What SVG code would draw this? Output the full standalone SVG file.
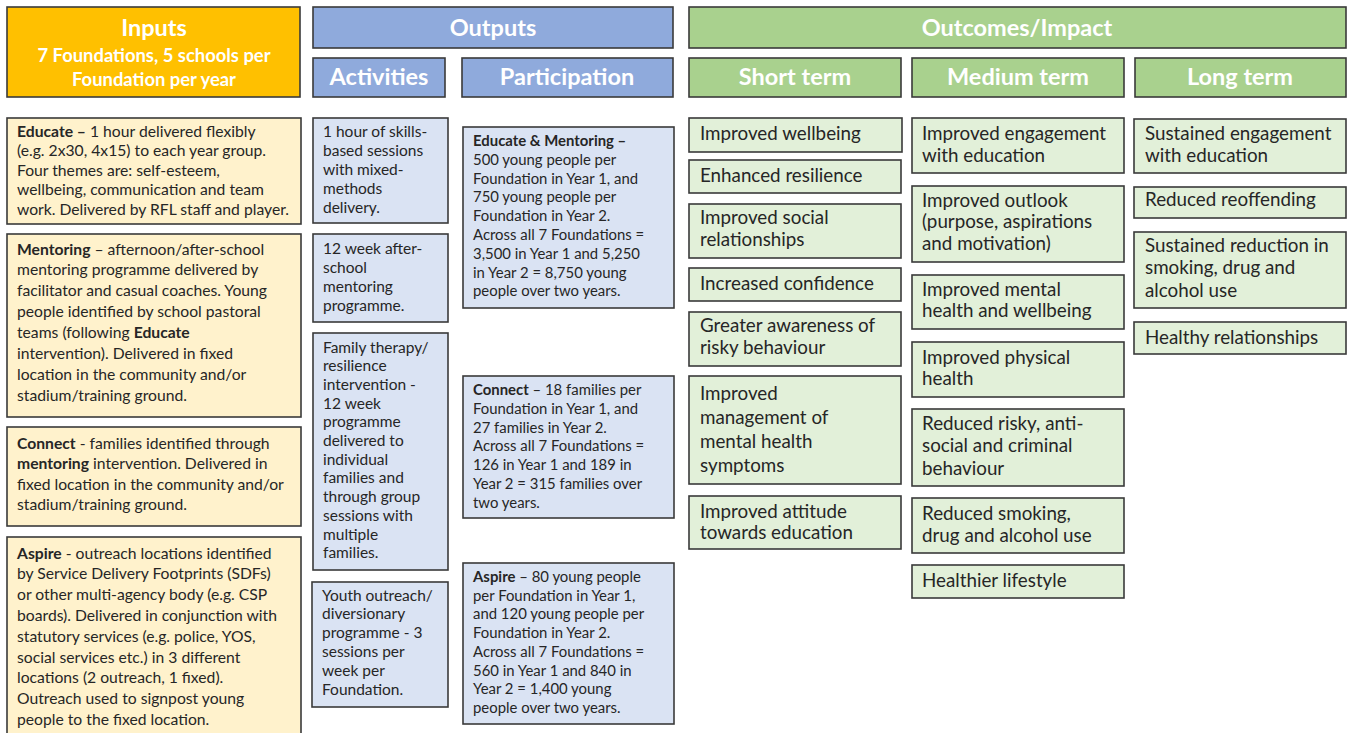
<svg xmlns="http://www.w3.org/2000/svg" width="1348" height="733" viewBox="0 0 1348 733">
  <style>
    text { font-family: Lato, "Open Sans", "Liberation Sans", sans-serif; fill: #262626; }
    .box { stroke: #3a3a3a; stroke-width: 1.6; }
    .hdr-in { fill: #FFC000; }
    .hdr-out { fill: #8FAADC; }
    .hdr-oc { fill: #A9D18E; }
    .in { fill: #FFF2CC; }
    .out { fill: #DAE3F3; }
    .oc { fill: #E2F0D9; }
    .h { fill: #ffffff; font-weight: bold; font-size: 23.5px; text-anchor: middle; }
    .hs { fill: #ffffff; font-weight: bold; font-size: 18.4px; text-anchor: middle; }
    .ti { font-size: 15.7px; }
    .ta { font-size: 15.5px; }
    .tp { font-size: 14.9px; }
    .t18 { font-size: 18.8px; }
    .b { font-weight: bold; }
  </style>

  <!-- column headers -->
  <g id="hdr-inputs">
    <rect class="box hdr-in" x="7" y="7" width="293" height="90"/>
    <text class="h" x="154" y="36">Inputs</text>
    <text class="hs" x="154" y="61.5">7 Foundations, 5 schools per</text>
    <text class="hs" x="154" y="85.5">Foundation per year</text>
  </g>
  <g id="hdr-outputs">
    <rect class="box hdr-out" x="313" y="7" width="360" height="41"/>
    <text class="h" x="493" y="36">Outputs</text>
  </g>
  <g id="hdr-activities">
    <rect class="box hdr-out" x="313" y="58" width="132" height="39"/>
    <text class="h" x="379" y="85">Activities</text>
  </g>
  <g id="hdr-participation">
    <rect class="box hdr-out" x="462" y="58" width="211" height="39"/>
    <text class="h" x="567" y="85">Participation</text>
  </g>
  <g id="hdr-outcomes">
    <rect class="box hdr-oc" x="689" y="7" width="657" height="41"/>
    <text class="h" x="1017" y="36">Outcomes/Impact</text>
  </g>
  <g id="hdr-short">
    <rect class="box hdr-oc" x="689" y="58" width="212" height="39"/>
    <text class="h" x="795" y="85">Short term</text>
  </g>
  <g id="hdr-medium">
    <rect class="box hdr-oc" x="912" y="58" width="212" height="39"/>
    <text class="h" x="1018" y="85">Medium term</text>
  </g>
  <g id="hdr-long">
    <rect class="box hdr-oc" x="1135" y="58" width="211" height="39"/>
    <text class="h" x="1240" y="85">Long term</text>
  </g>

  <!-- inputs -->
  <g id="in-educate">
    <rect class="box in" x="7" y="118" width="294" height="106"/>
    <text class="ti" x="17" y="136.5"><tspan class="b">Educate –</tspan> 1 hour delivered flexibly<tspan x="17" dy="19.5">(e.g. 2x30, 4x15) to each year group.</tspan><tspan x="17" dy="19.5">Four themes are: self-esteem,</tspan><tspan x="17" dy="19.5">wellbeing, communication and team</tspan><tspan x="17" dy="19.5">work. Delivered by RFL staff and player.</tspan></text>
  </g>
  <g id="in-mentoring">
    <rect class="box in" x="7" y="234" width="294" height="183"/>
    <text class="ti" x="17" y="254.5"><tspan class="b">Mentoring</tspan> – afternoon/after-school<tspan x="17" dy="20.9">mentoring programme delivered by</tspan><tspan x="17" dy="20.9">facilitator and casual coaches. Young</tspan><tspan x="17" dy="20.9">people identified by school pastoral</tspan><tspan x="17" dy="20.9">teams (following <tspan class="b">Educate</tspan></tspan><tspan x="17" dy="20.9">intervention). Delivered in fixed</tspan><tspan x="17" dy="20.9">location in the community and/or</tspan><tspan x="17" dy="20.9">stadium/training ground.</tspan></text>
  </g>
  <g id="in-connect">
    <rect class="box in" x="7" y="427" width="294" height="99"/>
    <text class="ti" x="17" y="448.5"><tspan class="b">Connect</tspan> - families identified through<tspan x="17" dy="20.6"><tspan class="b">mentoring</tspan> intervention. Delivered in</tspan><tspan x="17" dy="20.6">fixed location in the community and/or</tspan><tspan x="17" dy="20.6">stadium/training ground.</tspan></text>
  </g>
  <g id="in-aspire">
    <rect class="box in" x="7" y="537" width="294" height="210"/>
    <text class="ti" x="17" y="558.5"><tspan class="b">Aspire</tspan> - outreach locations identified<tspan x="17" dy="20.8">by Service Delivery Footprints (SDFs)</tspan><tspan x="17" dy="20.8">or other multi-agency body (e.g. CSP</tspan><tspan x="17" dy="20.8">boards). Delivered in conjunction with</tspan><tspan x="17" dy="20.8">statutory services (e.g. police, YOS,</tspan><tspan x="17" dy="20.8">social services etc.) in 3 different</tspan><tspan x="17" dy="20.8">locations (2 outreach, 1 fixed).</tspan><tspan x="17" dy="20.8">Outreach used to signpost young</tspan><tspan x="17" dy="20.8">people to the fixed location.</tspan></text>
  </g>

  <!-- activities -->
  <g id="act-educate">
    <rect class="box out" x="313" y="118" width="135" height="105"/>
    <text class="ta" x="323" y="136.5">1 hour of skills-<tspan x="323" dy="19">based sessions</tspan><tspan x="323" dy="19">with mixed-</tspan><tspan x="323" dy="19">methods</tspan><tspan x="323" dy="19">delivery.</tspan></text>
  </g>
  <g id="act-mentoring">
    <rect class="box out" x="313" y="234" width="135" height="88"/>
    <text class="ta" x="323" y="253.5">12 week after-<tspan x="323" dy="19">school</tspan><tspan x="323" dy="19">mentoring</tspan><tspan x="323" dy="19">programme.</tspan></text>
  </g>
  <g id="act-connect">
    <rect class="box out" x="313" y="333" width="135" height="237"/>
    <text class="ta" x="323" y="352.5">Family therapy/<tspan x="323" dy="18.7">resilience</tspan><tspan x="323" dy="18.7">intervention -</tspan><tspan x="323" dy="18.7">12 week</tspan><tspan x="323" dy="18.7">programme</tspan><tspan x="323" dy="18.7">delivered to</tspan><tspan x="323" dy="18.7">individual</tspan><tspan x="323" dy="18.7">families and</tspan><tspan x="323" dy="18.7">through group</tspan><tspan x="323" dy="18.7">sessions with</tspan><tspan x="323" dy="18.7">multiple</tspan><tspan x="323" dy="18.7">families.</tspan></text>
  </g>
  <g id="act-aspire">
    <rect class="box out" x="312" y="582" width="136" height="125"/>
    <text class="ta" x="322" y="600.5">Youth outreach/<tspan x="322" dy="18.8">diversionary</tspan><tspan x="322" dy="18.8">programme - 3</tspan><tspan x="322" dy="18.8">sessions per</tspan><tspan x="322" dy="18.8">week per</tspan><tspan x="322" dy="18.8">Foundation.</tspan></text>
  </g>

  <!-- participation -->
  <g id="part-educate">
    <rect class="box out" x="463" y="127" width="211" height="181"/>
    <text class="tp" x="473" y="146"><tspan class="b">Educate &amp; Mentoring –</tspan><tspan x="473" dy="18.8">500 young people per</tspan><tspan x="473" dy="18.8">Foundation in Year 1, and</tspan><tspan x="473" dy="18.8">750 young people per</tspan><tspan x="473" dy="18.8">Foundation in Year 2.</tspan><tspan x="473" dy="18.8">Across all 7 Foundations =</tspan><tspan x="473" dy="18.8">3,500 in Year 1 and 5,250</tspan><tspan x="473" dy="18.8">in Year 2 = 8,750 young</tspan><tspan x="473" dy="18.8">people over two years.</tspan></text>
  </g>
  <g id="part-connect">
    <rect class="box out" x="463" y="376" width="211" height="142"/>
    <text class="tp" x="473" y="395"><tspan class="b">Connect</tspan> – 18 families per<tspan x="473" dy="18.8">Foundation in Year 1, and</tspan><tspan x="473" dy="18.8">27 families in Year 2.</tspan><tspan x="473" dy="18.8">Across all 7 Foundations =</tspan><tspan x="473" dy="18.8">126 in Year 1 and 189 in</tspan><tspan x="473" dy="18.8">Year 2 = 315 families over</tspan><tspan x="473" dy="18.8">two years.</tspan></text>
  </g>
  <g id="part-aspire">
    <rect class="box out" x="463" y="563" width="211" height="161"/>
    <text class="tp" x="473" y="582"><tspan class="b">Aspire</tspan> – 80 young people<tspan x="473" dy="18.7">per Foundation in Year 1,</tspan><tspan x="473" dy="18.7">and 120 young people per</tspan><tspan x="473" dy="18.7">Foundation in Year 2.</tspan><tspan x="473" dy="18.7">Across all 7 Foundations =</tspan><tspan x="473" dy="18.7">560 in Year 1 and 840 in</tspan><tspan x="473" dy="18.7">Year 2 = 1,400 young</tspan><tspan x="473" dy="18.7">people over two years.</tspan></text>
  </g>

  <!-- short-term outcomes -->
  <g id="st-wellbeing">
    <rect class="box oc" x="689" y="118" width="213" height="34"/>
    <text class="t18" x="700" y="139.5">Improved wellbeing</text>
  </g>
  <g id="st-resilience">
    <rect class="box oc" x="689" y="160" width="212" height="33"/>
    <text class="t18" x="700" y="181.5">Enhanced resilience</text>
  </g>
  <g id="st-social">
    <rect class="box oc" x="689" y="204" width="212" height="54"/>
    <text class="t18" x="700" y="223.5">Improved social<tspan x="700" dy="22">relationships</tspan></text>
  </g>
  <g id="st-confidence">
    <rect class="box oc" x="689" y="268" width="212" height="33"/>
    <text class="t18" x="700" y="289.5">Increased confidence</text>
  </g>
  <g id="st-awareness">
    <rect class="box oc" x="689" y="312" width="212" height="54"/>
    <text class="t18" x="700" y="331.5">Greater awareness of<tspan x="700" dy="22">risky behaviour</tspan></text>
  </g>
  <g id="st-mental">
    <rect class="box oc" x="689" y="376" width="212" height="108"/>
    <text class="t18" x="700" y="399.5">Improved<tspan x="700" dy="24.3">management of</tspan><tspan x="700" dy="24.3">mental health</tspan><tspan x="700" dy="24.3">symptoms</tspan></text>
  </g>
  <g id="st-attitude">
    <rect class="box oc" x="689" y="496" width="212" height="53"/>
    <text class="t18" x="700" y="517.5">Improved attitude<tspan x="700" dy="21.5">towards education</tspan></text>
  </g>

  <!-- medium-term outcomes -->
  <g id="mt-engagement">
    <rect class="box oc" x="912" y="118" width="212" height="55"/>
    <text class="t18" x="922" y="139.5">Improved engagement<tspan x="922" dy="22">with education</tspan></text>
  </g>
  <g id="mt-outlook">
    <rect class="box oc" x="912" y="186" width="212" height="76"/>
    <text class="t18" x="922" y="206.5">Improved outlook<tspan x="922" dy="21.7">(purpose, aspirations</tspan><tspan x="922" dy="21.7">and motivation)</tspan></text>
  </g>
  <g id="mt-mental">
    <rect class="box oc" x="912" y="275" width="212" height="54"/>
    <text class="t18" x="922" y="295.5">Improved mental<tspan x="922" dy="21.5">health and wellbeing</tspan></text>
  </g>
  <g id="mt-physical">
    <rect class="box oc" x="912" y="342" width="212" height="55"/>
    <text class="t18" x="922" y="363.5">Improved physical<tspan x="922" dy="21.5">health</tspan></text>
  </g>
  <g id="mt-risky">
    <rect class="box oc" x="912" y="409" width="212" height="77"/>
    <text class="t18" x="922" y="429.5">Reduced risky, anti-<tspan x="922" dy="22.5">social and criminal</tspan><tspan x="922" dy="22.5">behaviour</tspan></text>
  </g>
  <g id="mt-smoking">
    <rect class="box oc" x="912" y="498" width="212" height="55"/>
    <text class="t18" x="922" y="519.5">Reduced smoking,<tspan x="922" dy="22">drug and alcohol use</tspan></text>
  </g>
  <g id="mt-lifestyle">
    <rect class="box oc" x="912" y="565" width="212" height="33"/>
    <text class="t18" x="922" y="586.5">Healthier lifestyle</text>
  </g>

  <!-- long-term outcomes -->
  <g id="lt-engagement">
    <rect class="box oc" x="1134" y="119" width="212" height="54"/>
    <text class="t18" x="1145" y="139.5">Sustained engagement<tspan x="1145" dy="22">with education</tspan></text>
  </g>
  <g id="lt-reoffending">
    <rect class="box oc" x="1134" y="187" width="212" height="31"/>
    <text class="t18" x="1145" y="205.5">Reduced reoffending</text>
  </g>
  <g id="lt-smoking">
    <rect class="box oc" x="1134" y="232" width="212" height="76"/>
    <text class="t18" x="1145" y="251.5">Sustained reduction in<tspan x="1145" dy="22.5">smoking, drug and</tspan><tspan x="1145" dy="22.5">alcohol use</tspan></text>
  </g>
  <g id="lt-relationships">
    <rect class="box oc" x="1134" y="322" width="212" height="32"/>
    <text class="t18" x="1145" y="343.5">Healthy relationships</text>
  </g>

  <!-- no connectors are drawn between the columns -->
  <g id="connectors"/>
</svg>
